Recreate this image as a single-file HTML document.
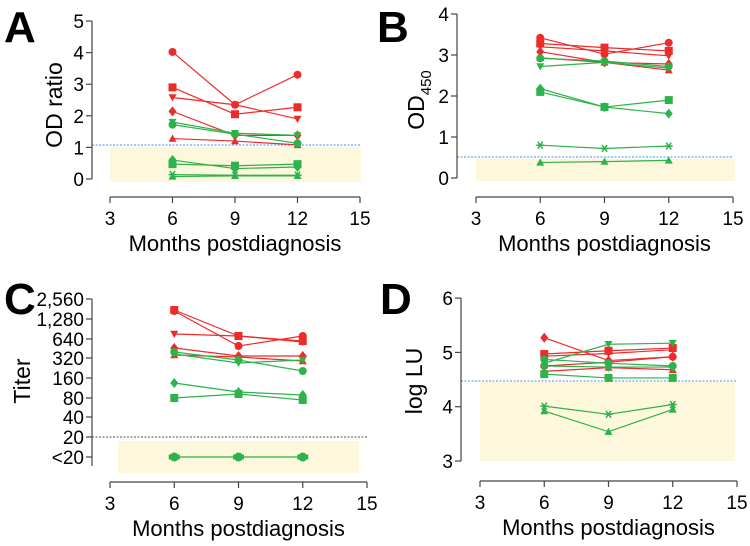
<!DOCTYPE html>
<html><head><meta charset="utf-8"><style>
html,body{margin:0;padding:0;background:#fff;}
svg{display:block;font-family:"Liberation Sans",sans-serif;}
</style></head><body>
<svg id="s" width="750" height="546" viewBox="0 0 750 546" xmlns="http://www.w3.org/2000/svg"></svg>
<script>
const R='#ee2b2b',G='#2eb24b';
let out='';
function mk(t,x,y,c){
  const r=4;
  if(t=='o')return `<circle cx="${x}" cy="${y}" r="${r}" fill="${c}"/>`;
  if(t=='s')return `<rect x="${x-r}" y="${y-r}" width="${2*r}" height="${2*r}" fill="${c}"/>`;
  if(t=='v')return `<polygon points="${x-r},${y-r*0.8} ${x+r},${y-r*0.8} ${x},${y+r}" fill="${c}"/>`;
  if(t=='^')return `<polygon points="${x-r},${y+r*0.8} ${x+r},${y+r*0.8} ${x},${y-r}" fill="${c}"/>`;
  if(t=='d')return `<polygon points="${x},${y-r-1} ${x+r},${y} ${x},${y+r+1} ${x-r},${y}" fill="${c}"/>`;
  if(t=='*')return `<g stroke="${c}" stroke-width="1.5"><line x1="${x-4}" y1="${y}" x2="${x+4}" y2="${y}"/><line x1="${x-2.5}" y1="${y-3.5}" x2="${x+2.5}" y2="${y+3.5}"/><line x1="${x-2.5}" y1="${y+3.5}" x2="${x+2.5}" y2="${y-3.5}"/></g>`;
  if(t=='x')return `<g fill="${c}"><circle cx="${x}" cy="${y}" r="4.5"/><rect x="${x-5.5}" y="${y-2.5}" width="11" height="5"/></g>`;
}
function panel(p){
  const X=m=>p.x0+(m-3)*(p.x1-p.x0)/12;
  out+=`<rect x="${p.sh[0]}" y="${p.sh[1]}" width="${p.sh[2]-p.sh[0]}" height="${p.sh[3]-p.sh[1]}" fill="#fdf7dc"/>`;
  out+=`<line x1="${p.ax}" y1="${p.dl}" x2="${p.x1}" y2="${p.dl}" stroke="${p.dc}" stroke-width="1" stroke-dasharray="2,1.5"/>`;
  out+=`<line x1="${p.ax}" y1="${p.yt}" x2="${p.ax}" y2="${p.yb}" stroke="#444" stroke-width="1.2"/>`;
  p.ticks.forEach(([v,y])=>{out+=`<line x1="${p.ax-6}" y1="${y}" x2="${p.ax}" y2="${y}" stroke="#444" stroke-width="1.2"/><text x="${p.ax-8}" y="${y+7}" font-size="19" text-anchor="end">${v}</text>`;});
  out+=`<line x1="${p.x0}" y1="${p.xa}" x2="${p.x1}" y2="${p.xa}" stroke="#444" stroke-width="1.2"/>`;
  [3,6,9,12,15].forEach(m=>{out+=`<line x1="${X(m)}" y1="${p.xa}" x2="${X(m)}" y2="${p.xa+6}" stroke="#444" stroke-width="1.2"/><text x="${X(m)}" y="${p.xa+28}" font-size="19" text-anchor="middle">${m}</text>`;});
  out+=`<text x="${(p.x0+p.x1)/2}" y="${p.xa+54}" font-size="22" text-anchor="middle">Months postdiagnosis</text>`;
  out+=p.ylab;
  out+=`<text x="${p.lx}" y="${p.ly}" font-size="44" font-weight="bold">${p.L}</text>`;
  p.series.forEach(([t,c,ys])=>{
    const pts=ys.map((v,i)=>[X(6+3*i),p.Y(v)]);
    out+=`<polyline points="${pts.map(q=>q.join(',')).join(' ')}" fill="none" stroke="${c}" stroke-width="1.2"/>`;
    pts.forEach(q=>out+=mk(t,q[0],q[1],c));
  });
}
let YA=v=>179-v*31.6;
panel({L:'A',lx:4,ly:42,x0:110,x1:360,xa:197,ax:92,yt:21,yb:179,dl:145,dc:'#4a8fe0',sh:[110,147,361,182],Y:YA,
 ticks:[0,1,2,3,4,5].map(v=>[v,YA(v)]),
 ylab:`<text transform="translate(62,105) rotate(-90)" font-size="23" text-anchor="middle">OD ratio</text>`,
 series:[['o',R,[4.02,2.35,3.3]],['s',R,[2.9,2.05,2.27]],['v',R,[2.58,2.35,1.9]],['d',R,[2.14,1.38,1.38]],['^',R,[1.28,1.2,1.08]],
 ['v',G,[1.8,1.45,1.38]],['o',G,[1.72,1.42,1.13]],['d',G,[0.6,0.33,0.38]],['s',G,[0.47,0.42,0.47]],['*',G,[0.14,0.12,0.12]],['^',G,[0.08,0.1,0.1]]]});
let YB=v=>178-v*41;
panel({L:'B',lx:377,ly:42,x0:476,x1:733,xa:197,ax:457,yt:14,yb:178,dl:157,dc:'#4a8fe0',sh:[476,159,735,181],Y:YB,
 ticks:[0,1,2,3,4].map(v=>[v,YB(v)]),
 ylab:`<text transform="translate(424,100) rotate(-90)" font-size="23" text-anchor="middle">OD<tspan font-size="15" dy="7">450</tspan></text>`,
 series:[['o',R,[3.42,3.02,3.3]],['s',R,[3.28,3.18,3.1]],['v',R,[3.2,3.1,2.98]],['d',R,[3.08,2.82,2.78]],['^',R,[2.93,2.82,2.63]],
 ['o',G,[2.92,2.85,2.72]],['v',G,[2.72,2.82,2.68]],['d',G,[2.18,1.73,1.57]],['s',G,[2.1,1.73,1.9]],['*',G,[0.8,0.72,0.78]],['^',G,[0.38,0.4,0.43]]]});
let YC=v=>v;
const ct=[['2,560',299],['1,280',319],['640',339],['320',358],['160',378],['80',398],['40',417],['20',437],['&lt;20',457]];
panel({L:'C',lx:4,ly:314,x0:110,x1:367,xa:482,ax:92,yt:299,yb:466,dl:437,dc:'#555',sh:[118,441,359,473],Y:YC,
 ticks:ct,
 ylab:`<text transform="translate(30,381) rotate(-90)" font-size="23" text-anchor="middle">Titer</text>`,
 series:[['s',R,[310,336,341]],['o',R,[311,346,336]],['v',R,[334,336,342]],['d',R,[348,356,356]],['^',R,[355,357,361]],
 ['o',G,[352,360,371]],['v',G,[354,363,360]],['d',G,[383,392,395]],['s',G,[398,394,400]],['x',G,[457,457,457]]]});
let YD=v=>461-(v-3)*54.3;
panel({L:'D',lx:380,ly:314,x0:480,x1:737,xa:481,ax:461,yt:298,yb:461,dl:381,dc:'#4a8fe0',sh:[480,382,735,461],Y:YD,
 ticks:[3,4,5,6].map(v=>[v,YD(v)]),
 ylab:`<text transform="translate(422,381) rotate(-90)" font-size="23" text-anchor="middle">log LU</text>`,
 series:[['d',R,[5.27,4.85,4.92]],['s',R,[4.97,5.03,5.08]],['v',R,[4.93,4.98,5.05]],['o',R,[4.75,4.82,4.92]],['^',R,[4.65,4.72,4.68]],
 ['v',G,[4.8,5.15,5.17]],['o',G,[4.87,4.8,4.75]],['d',G,[4.75,4.73,4.73]],['s',G,[4.6,4.53,4.53]],['*',G,[4.01,3.86,4.04]],['^',G,[3.92,3.54,3.95]]]});
document.getElementById('s').innerHTML=out;
</script>
</body></html>
